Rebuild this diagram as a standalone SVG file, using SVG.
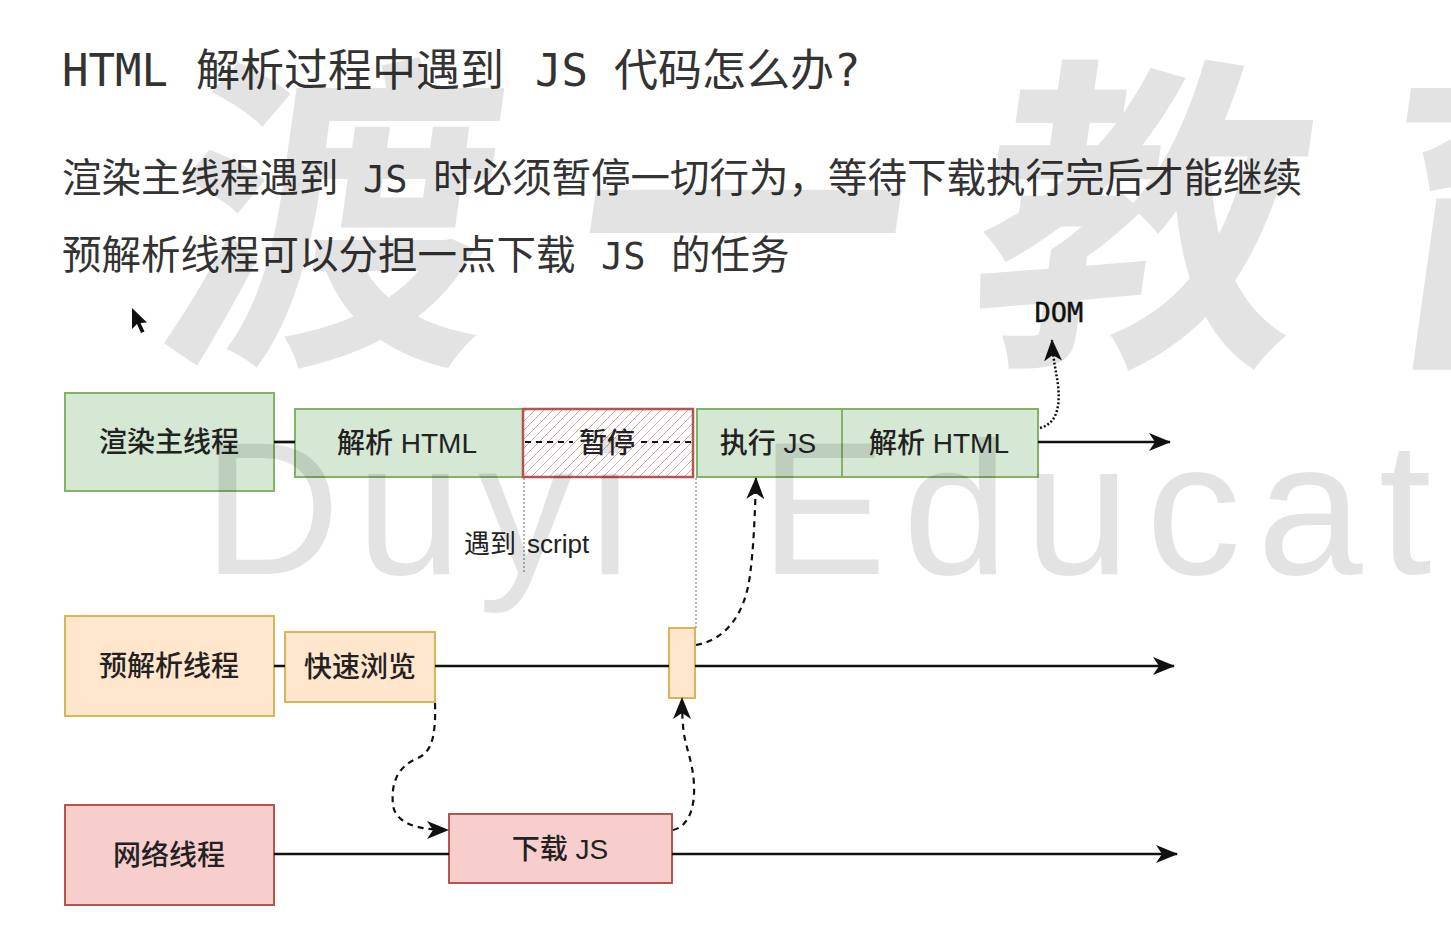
<svg xmlns="http://www.w3.org/2000/svg" width="1451" height="945" viewBox="0 0 1451 945">
<style>
.h{font-family:"DejaVu Sans Mono","Noto Sans CJK SC",monospace;fill:#333}
.lbl{font-family:"Liberation Sans","Noto Sans CJK SC",sans-serif;font-size:28px;font-weight:500;fill:#222;text-anchor:middle;dominant-baseline:central}
.g{fill:#d5e8d4;stroke:#82b366;stroke-width:2}
.o{fill:#ffe6cc;stroke:#d6b656;stroke-width:2}
.r{fill:#f8cecc;stroke:#b85450;stroke-width:2}
.ln{fill:none;stroke:#111;stroke-width:2.7}
.da{fill:none;stroke:#111;stroke-width:2.2;stroke-dasharray:6 5}
.dot{fill:none;stroke:#111;stroke-width:2.5;stroke-dasharray:2 2}
.guide{fill:none;stroke:#888;stroke-width:1.2;stroke-dasharray:2 2}
.wm{font-family:"Noto Sans CJK SC",sans-serif;font-weight:bold;fill:#000;fill-opacity:0.11}
.wm2{font-family:"Liberation Sans",sans-serif;fill:#000;fill-opacity:0.11}
</style>
<defs>
<pattern id="hatch" patternUnits="userSpaceOnUse" width="9" height="9">
<path d="M-1,10 L10,-1 M-5,5 L5,-5 M4,14 L14,4" stroke="#e3a1a1" stroke-width="1"/>
</pattern>
<marker id="ah" viewBox="0 0 22 18" markerWidth="22" markerHeight="18" refX="21" refY="9" orient="auto" markerUnits="userSpaceOnUse">
<path d="M0,0 L22,9 L0,18 L6,9 Z" fill="#111"/>
</marker>
</defs>
<rect width="1451" height="945" fill="#fff"/>

<g id="texts">
<text class="h" font-size="44" y="86"><tspan x="62">HTML</tspan><tspan x="196">解析过程中遇到</tspan><tspan x="535">JS</tspan><tspan x="614">代码怎么办?</tspan></text>
<text class="h" font-size="39.5" y="192"><tspan x="62">渲染主线程遇到</tspan><tspan x="363" font-size="37">JS</tspan><tspan x="433">时必须暂停一切行为，等待下载执行完后才能继续</tspan></text>
<text class="h" font-size="39.5" y="269"><tspan x="62">预解析线程可以分担一点下载</tspan><tspan x="601" font-size="37">JS</tspan><tspan x="671">的任务</tspan></text>
</g>

<path id="cursor" d="M132,308 L132,329 L137,324 L141,333 L144.5,331.5 L140.5,323 L147,322.5 Z" fill="#111"/>

<g id="n-main"><rect class="g" x="65" y="393" width="209" height="98"/><text class="lbl" x="169" y="442">渲染主线程</text></g>
<g id="n-parse1"><rect class="g" x="295" y="409" width="228" height="68"/><text class="lbl" x="407" y="443">解析 HTML</text></g>
<g id="n-pause"><rect x="523" y="409" width="170" height="68" fill="#fff" stroke="none"/><rect x="523" y="409" width="170" height="68" fill="url(#hatch)" stroke="#b85450" stroke-width="2.5"/><text class="lbl" x="607" y="443">暂停</text></g>
<g id="n-exec"><rect class="g" x="697" y="409" width="145" height="68"/><text class="lbl" x="768" y="443">执行 JS</text></g>
<g id="n-parse2"><rect class="g" x="842" y="409" width="196" height="68"/><text class="lbl" x="939" y="443">解析 HTML</text></g>
<g id="n-dom"><text x="1059" y="322" font-family="DejaVu Sans Mono,monospace" font-size="27" fill="#111" text-anchor="middle" stroke="#111" stroke-width="0.4">DOM</text></g>
<g id="n-script"><text x="516" y="553" font-family="Liberation Sans,Noto Sans CJK SC,sans-serif" font-size="26" fill="#222" text-anchor="end">遇到</text><text x="527" y="553" font-family="Liberation Sans,Noto Sans CJK SC,sans-serif" font-size="26" fill="#222">script</text></g>

<g id="n-pre"><rect class="o" x="65" y="616" width="209" height="100"/><text class="lbl" x="169" y="666">预解析线程</text></g>
<g id="n-scan"><rect class="o" x="285" y="632" width="150" height="70"/><text class="lbl" x="360" y="667">快速浏览</text></g>
<g id="n-small"><rect class="o" x="669" y="628" width="26" height="70"/></g>

<g id="n-net"><rect class="r" x="65" y="805" width="209" height="100"/><text class="lbl" x="169" y="855">网络线程</text></g>
<g id="n-dl"><rect class="r" x="449" y="814" width="223" height="69"/><text class="lbl" x="560" y="849">下载 JS</text></g>

<g id="connectors">
<path class="ln" d="M274,442 H295"/>
<path class="da" d="M525,442 H573 M641,442 H695"/>
<path class="ln" d="M1038,442 H1170" marker-end="url(#ah)"/>
<path class="ln" d="M274,666 H285 M435,666 H669"/>
<path class="ln" d="M695,666 H1174" marker-end="url(#ah)"/>
<path class="ln" d="M274,854 H449"/>
<path class="ln" d="M672,854 H1177" marker-end="url(#ah)"/>
<path class="guide" d="M524,478 V572"/>
<path class="guide" d="M696,478 V628"/>
<path class="dot" d="M1040,428 C1058,423 1060,405 1058,385 C1056,370 1053,360 1052,340" marker-end="url(#ah)"/>
<path class="da" d="M696,645 C725,640 745,615 750,575 C754,545 755,510 756,478" marker-end="url(#ah)"/>
<path class="da" d="M435,703 C436,735 432,752 418,758 C396,767 391,785 393,805 C395,822 415,830 448,830" marker-end="url(#ah)"/>
<path class="da" d="M673,830 C690,826 695,805 694,785 C693,760 684,745 683,725 C682,712 682,705 682,698" marker-end="url(#ah)"/>
</g>

<g id="watermark">
<text class="wm" font-size="330" y="340" transform="skewX(-8) translate(45,0)"><tspan x="155">渡</tspan><tspan x="565">一</tspan><tspan x="965">教</tspan><tspan x="1360">育</tspan></text>
<text class="wm2" font-size="190" y="574" letter-spacing="16"><tspan x="203">Duyi</tspan><tspan x="760">Education</tspan></text>
</g>
</svg>
